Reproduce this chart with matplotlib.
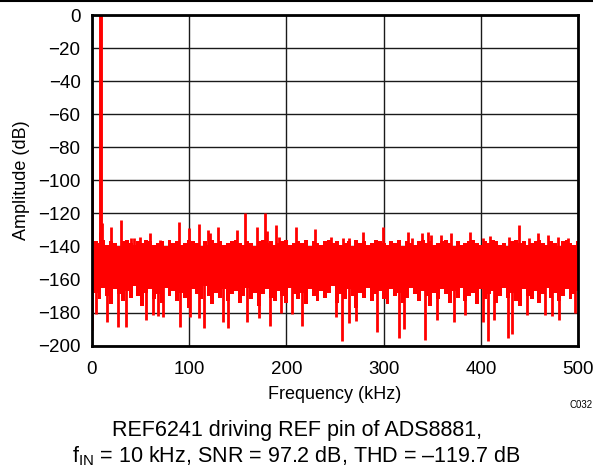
import numpy as np
import matplotlib
matplotlib.use("Agg")
import matplotlib.pyplot as plt
from matplotlib.lines import Line2D

plt.rcParams['font.family'] = ['Liberation Sans', 'DejaVu Sans']
plt.rcParams['mathtext.fontset'] = 'custom'
plt.rcParams['mathtext.rm'] = 'Liberation Sans'
plt.rcParams['mathtext.default'] = 'regular'

# noise floor envelope of the FFT, one value per 4 kHz bin (kHz, dB)
band_freq = np.arange(0, 501, 4)
band_top = [-136, -137, -138, -136, -139, -137, -138, -140, -137, -136, -138,
            -139, -137, -138, -136, -137, -139, -138, -137, -140, -136,
            -138, -137, -139, -138, -136, -137, -138, -140, -137, -139,
            -136, -138, -137, -139, -138, -137, -136, -138, -139, -137,
            -138, -140, -137, -136, -138, -137, -139, -138, -137, -136,
            -139, -138, -137, -138, -136, -140, -137, -138, -139, -137,
            -136, -138, -137, -139, -138, -137, -140, -136, -138, -137,
            -139, -138, -136, -137, -138, -139, -137, -138, -136, -140,
            -137, -138, -139, -137, -136, -138, -137, -139, -138, -137,
            -136, -138, -140, -137, -139, -138, -137, -136, -138, -139,
            -137, -138, -136, -137, -139, -138, -140, -137, -136, -138,
            -137, -139, -138, -137, -136, -138, -139, -137, -138, -140,
            -137, -136, -138, -139, -137]
band_bottom = [-172, -168, -172, -165, -170, -175, -166, -169, -173, -167,
               -171, -164, -170, -176, -168, -166, -172, -169, -174, -165,
               -170, -167, -173, -168, -171, -177, -166, -169, -172, -164,
               -170, -175, -168, -171, -166, -173, -169, -167, -174, -170,
               -165, -172, -168, -176, -169, -166, -171, -173, -167, -170,
               -174, -165, -169, -172, -168, -175, -166, -170, -173, -167,
               -171, -168, -164, -174, -169, -172, -166, -170, -177, -168,
               -171, -165, -173, -169, -167, -172, -175, -166, -170, -168,
               -174, -171, -165, -169, -173, -167, -170, -176, -168, -172,
               -166, -169, -174, -167, -171, -165, -173, -170, -168, -175,
               -166, -172, -169, -167, -174, -170, -165, -171, -168, -173,
               -176, -166, -170, -172, -167, -174, -169, -165, -171, -168,
               -173, -170, -166, -172, -169, -167]

# fundamental tone at 10 kHz
tone_freq = [10]
tone_db = [0]

# DC, harmonics and spurs above the floor
spur_freq = [0, 9, 11, 20, 30, 40, 44, 50, 60, 70, 90, 100, 110, 119.5,
             122, 130, 149, 158, 170, 178, 180.5, 189, 192, 210, 229, 246,
             258, 264, 279, 299, 325, 329, 339, 345.5, 349, 359, 369, 388.5,
             402, 409, 428.5, 439, 449, 458.5, 469, 479, 489]
spur_db = [-80, -131, -126, -128, -124, -135, -135, -134.5, -132, -136,
           -125, -129, -126.5, -130, -132, -128, -130, -120, -128, -120,
           -130.5, -127, -134, -128.5, -129.5, -134, -135, -135, -131,
           -128.5, -131, -135, -132, -131.5, -133, -133, -132, -131, -135,
           -133.5, -134, -127, -135, -132, -133, -134, -135]

# deep nulls below the floor
dip_freq = [0.5, 4, 15.5, 27.5, 35, 56, 63, 68, 73, 90.5, 101.5, 110.5,
            115.5, 135, 140.5, 159.5, 171.5, 183.5, 195, 206, 216, 251.5,
            257, 264.5, 271.5, 293, 316, 320.5, 342, 355, 372, 384, 402.5,
            407, 413, 428, 432, 447, 466, 473, 480.5, 497]
dip_db = [-190.5, -181, -185.5, -188.5, -188.5, -184.5, -181.5, -182,
          -182.5, -189, -182.5, -183.5, -189.5, -185.5, -189.5, -185.5,
          -183.5, -188, -180, -181, -188, -183, -197, -186.5, -185, -192,
          -195.5, -190, -196.5, -184.5, -185.5, -181.5, -185.5, -197,
          -184.5, -195.5, -193, -181.5, -181.5, -182, -184.5, -180]

red = '#ff0000'

fig = plt.figure(figsize=(5.93, 4.72), dpi=100)
ax = fig.add_axes([0.1546, 0.2678, 0.8206, 0.7004])

# solid noise band, then spurs and nulls as single-bin spikes
ax.fill_between(band_freq, band_bottom, band_top, step='mid',
                color=red, lw=0, zorder=3)
ax.vlines(tone_freq, -150, tone_db, color=red, lw=2.8, zorder=3)
ax.vlines(spur_freq, -150, spur_db, color=red, lw=2.0, zorder=3)
ax.vlines(dip_freq, -160, dip_db, color=red, lw=2.0, zorder=3)

ax.set_xlim(0, 500)
ax.set_ylim(-200, 0)
ax.set_xticks(np.arange(0, 501, 100))
ax.set_yticks(np.arange(-200, 1, 20))
ax.grid(True, color='#1a1a1a', lw=1.0)
ax.set_axisbelow(True)
for s in ax.spines.values():
    s.set_linewidth(2)
    s.set_color('black')
    s.set_zorder(4)
ax.tick_params(length=0, labelsize=13.5)
ax.tick_params(axis='x', pad=11)
ax.tick_params(axis='y', pad=8)

ax.set_xlabel('Frequency (kHz)', fontsize=13, labelpad=6)
ax.set_ylabel('Amplitude (dB)', fontsize=13, labelpad=6)

fig.text(0.999, 0.142, 'C032', fontsize=7, ha='right', va='center')
fig.text(0.5, 0.088, 'REF6241 driving REF pin of ADS8881,', fontsize=15.5,
         ha='center', va='center')
fig.text(0.5, 0.034,
         'f$_{IN}$ = 10 kHz, SNR = 97.2 dB, THD = \u2013119.7 dB',
         fontsize=15.5, ha='center', va='center')

fig.add_artist(Line2D([0, 1], [0.998, 0.998], color='black', lw=1.5))

fig.savefig('out.png', dpi=100)
